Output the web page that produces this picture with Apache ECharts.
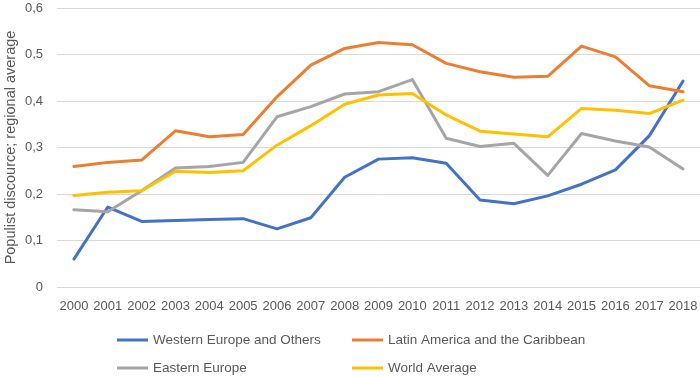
<!DOCTYPE html>
<html>
<head>
<meta charset="utf-8">
<script src="https://cdn.jsdelivr.net/npm/echarts@6/dist/echarts.min.js"></script>
<style>
  html, body { margin: 0; padding: 0; background: #fff; }
  #chart { width: 700px; height: 376px; }
</style>
</head>
<body>
<div id="chart"></div>
<script>
var years = ["2000", "2001", "2002", "2003", "2004", "2005", "2006", "2007", "2008", "2009",
  "2010", "2011", "2012", "2013", "2014", "2015", "2016", "2017", "2018"]

var westernEurope = [0.060, 0.172, 0.141, 0.143, 0.145, 0.147, 0.125, 0.149, 0.236, 0.275,
  0.278, 0.266, 0.187, 0.179, 0.196, 0.221, 0.252, 0.325, 0.443]
var latinAmerica = [0.259, 0.268, 0.273, 0.336, 0.323, 0.328, 0.409, 0.477, 0.513, 0.526,
  0.521, 0.481, 0.463, 0.451, 0.453, 0.518, 0.495, 0.433, 0.420]
var easternEurope = [0.166, 0.162, 0.207, 0.256, 0.259, 0.268, 0.366, 0.388, 0.415, 0.420,
  0.446, 0.320, 0.302, 0.309, 0.240, 0.330, 0.314, 0.301, 0.254]
var worldAverage = [0.197, 0.204, 0.207, 0.249, 0.246, 0.250, 0.305, 0.347, 0.393, 0.413,
  0.416, 0.370, 0.335, 0.329, 0.323, 0.384, 0.380, 0.373, 0.402]

var seriesNames = ["Western Europe and Others", "Latin America and the Caribbean", "Eastern Europe", "World Average"]
var seriesColors = ["#4472C4", "#ED7D31", "#A5A5A5", "#FFC000"]
var seriesData = [westernEurope, latinAmerica, easternEurope, worldAverage]

var font = "'Liberation Sans', Arial, sans-serif"
var textColor = "#595959"

// one legend per entry so the 2x2 layout sits where it should
var legendPos = [
  { left: 117, top: 333 },
  { left: 352, top: 333 },
  { left: 117, top: 361 },
  { left: 352, top: 361 },
]

var chart = echarts.init(document.getElementById("chart"), null, { renderer: "canvas" })

var option = {
  animation: false,
  color: seriesColors,
  grid: {
    left: 57,
    right: 0,
    top: 8,
    bottom: 89,
    containLabel: false,
    outerBoundsMode: "none",
  },
  legend: legendPos.map(function(p, i) {
    return {
      data: [seriesNames[i]],
      left: p.left,
      top: p.top,
      padding: 0,
      icon: "rect",
      itemWidth: 31,
      itemHeight: 3,
      textStyle: { color: textColor, fontSize: 13.5, fontFamily: font },
    }
  }),
  xAxis: {
    type: "category",
    data: years,
    boundaryGap: true,
    axisLine: { show: false },
    axisTick: { show: false },
    axisLabel: {
      color: textColor,
      fontSize: 13,
      fontFamily: font,
      interval: 0,
      margin: 13,
    },
  },
  yAxis: {
    type: "value",
    min: 0,
    max: 0.6,
    interval: 0.1,
    name: "Populist discource; regional average",
    nameLocation: "middle",
    nameGap: 39,
    nameMoveOverlap: false,
    nameTextStyle: { color: textColor, fontSize: 14.5, fontFamily: font },
    axisLine: { show: false },
    axisTick: { show: false },
    axisLabel: {
      color: textColor,
      fontSize: 13,
      fontFamily: font,
      margin: 14,
      formatter: function(v) {
        return v === 0 ? "0" : v.toFixed(1).replace(".", ",")
      },
    },
    splitLine: { lineStyle: { color: "#D9D9D9", width: 1 } },
  },
  series: seriesNames.map(function(name, i) {
    return {
      name: name,
      type: "line",
      data: seriesData[i],
      symbol: "none",
      smooth: false,
      lineStyle: { width: 3, color: seriesColors[i], cap: "round", join: "round" },
      itemStyle: { color: seriesColors[i] },
    }
  }),
}

chart.setOption(option)
</script>
</body>
</html>
